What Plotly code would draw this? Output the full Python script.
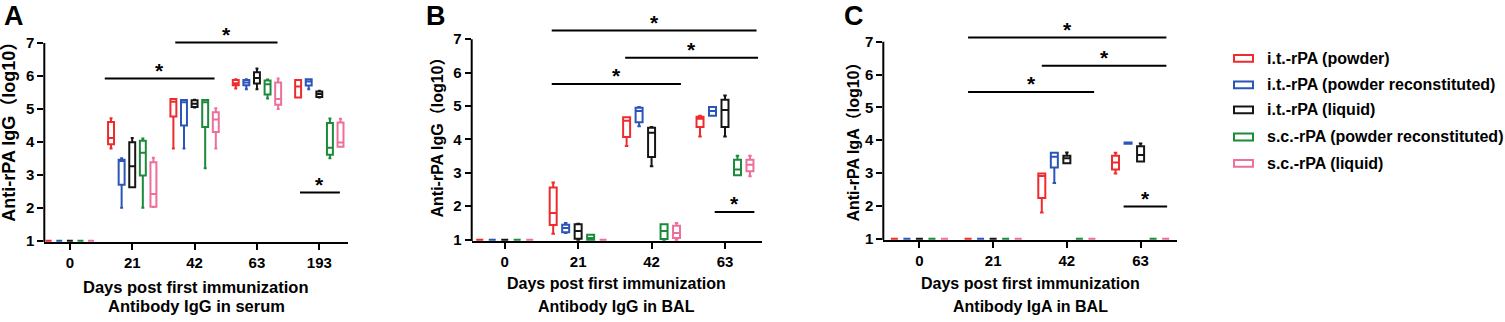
import plotly.graph_objects as go

# ---------------- data ----------------
groups = ["i.t.-rPA (powder)", "i.t.-rPA (powder reconstituted)", "i.t.-rPA (liquid)",
          "s.c.-rPA (powder reconstituted)", "s.c.-rPA (liquid)"]
colors = ["#EF2B2D", "#2B55B8", "#161616", "#1B8A3B", "#EE6E9C"]

days_A = ["0", "21", "42", "63", "193"]
days_BC = ["0", "21", "42", "63"]

# each entry per day: [lower whisker, q1, median, q3, upper whisker]  (log10 titre)
A_it_powder = [[1, 1, 1, 1, 1], [3.8, 3.93, 4.12, 4.6, 4.72], [3.8, 4.77, 5.22, 5.3, 5.3],
               [5.62, 5.72, 5.78, 5.88, 5.9], [5.35, 5.35, 5.68, 5.88, 5.88]]
A_it_recon = [[1, 1, 1, 1, 1], [2.0, 2.7, 3.42, 3.46, 3.5], [3.8, 4.5, 5.2, 5.27, 5.27],
              [5.6, 5.72, 5.8, 5.88, 5.9], [5.6, 5.71, 5.83, 5.9, 5.9]]
A_it_liquid = [[1, 1, 1, 1, 1], [2.62, 2.62, 3.26, 3.99, 4.12], [5.04, 5.06, 5.16, 5.26, 5.28],
               [5.6, 5.77, 5.94, 6.11, 6.23], [5.35, 5.36, 5.45, 5.53, 5.55]]
A_sc_recon = [[1, 1, 1, 1, 1], [2.0, 2.98, 3.67, 4.03, 4.1], [3.2, 4.45, 5.2, 5.27, 5.27],
              [5.32, 5.44, 5.75, 5.86, 5.89], [3.5, 3.61, 3.82, 4.57, 4.71]]
A_sc_liquid = [[1, 1, 1, 1, 1], [2.02, 2.03, 2.42, 3.38, 3.52], [3.8, 4.3, 4.68, 4.9, 5.02],
               [5.0, 5.13, 5.3, 5.8, 5.92], [3.85, 3.85, 3.98, 4.59, 4.7]]

B_it_powder = [[1, 1, 1, 1, 1], [1.18, 1.44, 1.8, 2.56, 2.71], [3.8, 4.07, 4.56, 4.66, 4.66],
               [4.09, 4.37, 4.62, 4.68, 4.71]]
B_it_recon = [[1, 1, 1, 1, 1], [1.2, 1.22, 1.35, 1.45, 1.5], [4.39, 4.51, 4.85, 4.95, 4.97],
              [4.71, 4.71, 4.85, 4.97, 4.97]]
B_it_liquid = [[1, 1, 1, 1, 1], [1.0, 1.03, 1.26, 1.46, 1.48], [3.2, 3.47, 4.2, 4.35, 4.37],
               [4.09, 4.37, 4.88, 5.19, 5.31]]
B_sc_recon = [[1, 1, 1, 1, 1], [1.0, 1.0, 1.05, 1.15, 1.15], [1.0, 1.02, 1.26, 1.46, 1.46],
              [2.93, 2.93, 3.1, 3.39, 3.51]]
B_sc_liquid = [[1, 1, 1, 1, 1], [1, 1, 1, 1, 1], [1.0, 1.05, 1.2, 1.42, 1.5],
               [2.9, 3.05, 3.24, 3.39, 3.51]]

C_it_powder = [[1, 1, 1, 1, 1], [1, 1, 1, 1, 1], [1.8, 2.24, 2.91, 2.99, 2.99],
               [2.99, 3.11, 3.32, 3.53, 3.62]]
C_it_recon = [[1, 1, 1, 1, 1], [1, 1, 1, 1, 1], [2.7, 3.17, 3.5, 3.62, 3.62],
              [3.89, 3.89, 3.91, 3.93, 3.93]]
C_it_liquid = [[1, 1, 1, 1, 1], [1, 1, 1, 1, 1], [3.3, 3.3, 3.45, 3.53, 3.63],
               [3.35, 3.35, 3.55, 3.82, 3.9]]
C_sc_recon = [[1, 1, 1, 1, 1], [1, 1, 1, 1, 1], [1, 1, 1, 1, 1], [1, 1, 1, 1, 1]]
C_sc_liquid = [[1, 1, 1, 1, 1], [1, 1, 1, 1, 1], [1, 1, 1, 1, 1], [1, 1, 1, 1, 1]]

# significance brackets: (from category position, to category position, level)
sig_A = [(0.56, 2.32, 5.92), (1.69, 3.33, 7.02), (3.69, 4.33, 2.46)]
sig_B = [(0.64, 3.43, 7.26), (1.64, 3.45, 6.44), (0.64, 2.40, 5.66), (2.86, 3.40, 1.83)]
sig_C = [(0.66, 3.35, 7.13), (1.66, 3.35, 6.27), (0.66, 2.37, 5.47), (2.77, 3.36, 1.98)]

panel_letters = ["A", "B", "C"]
y_titles = ["Anti-rPA IgG（log10）", "Anti-rPA IgG（log10）", "Anti-rPA IgA（log10）"]
x_title_1 = "Days post first immunization"
x_title_2 = ["Antibody IgG in serum", "Antibody IgG in BAL", "Antibody IgA in BAL"]

# ---------------- layout geometry (pixels) ----------------
W, H = 1505, 322
FONT = "Liberation Sans, Arial, Noto Sans CJK SC, sans-serif"
YMIN, YMAX = 0.96, 7.5

panels = [
    dict(data=[A_it_powder, A_it_recon, A_it_liquid, A_sc_recon, A_sc_liquid], days=days_A,
         sig=sig_A, left=44.3, right=348, p1=246, p7=44, xr=[-0.41, 4.46],
         letter_x=2, ytx=9.5, yty=130, ytsize=18, xts=16.5, xt1=293, xt2=313),
    dict(data=[B_it_powder, B_it_recon, B_it_liquid, B_sc_recon, B_sc_liquid], days=days_BC,
         sig=sig_B, left=471.7, right=761.7, p1=245, p7=40, xr=[-0.45, 3.5],
         letter_x=424, ytx=437.5, yty=137, ytsize=16, xts=16, xt1=290, xt2=313),
    dict(data=[C_it_powder, C_it_recon, C_it_liquid, C_sc_recon, C_sc_liquid], days=days_BC,
         sig=sig_C, left=883.3, right=1176.7, p1=244, p7=42.7, xr=[-0.49, 3.49],
         letter_x=842, ytx=854, yty=141.7, ytsize=16, xts=16, xt1=290, xt2=313),
]

fig = go.Figure()
shapes = []
annotations = []
layout_axes = {}

for k, p in enumerate(panels):
    sfx = "" if k == 0 else str(k + 1)
    xname, yname = "x" + sfx, "y" + sfx
    u = (p["p1"] - p["p7"]) / 6.0
    bottom_px = p["p1"] + (1 - YMIN) * u
    top_px = p["p7"] - (YMAX - 7) * u
    for g, series in enumerate(p["data"]):
        fig.add_trace(go.Box(
            x=p["days"],
            lowerfence=[d[0] for d in series], q1=[d[1] for d in series],
            median=[d[2] for d in series], q3=[d[3] for d in series],
            upperfence=[d[4] for d in series],
            name=groups[g], line=dict(color=colors[g], width=2),
            fillcolor="rgba(255,255,255,0)", whiskerwidth=0.5,
            alignmentgroup=panel_letters[k], offsetgroup=str(g),
            boxpoints=False, showlegend=False, xaxis=xname, yaxis=yname,
        ))
    layout_axes["xaxis" + sfx] = dict(
        domain=[p["left"] / W, p["right"] / W], anchor=yname, type="category",
        categoryorder="array", categoryarray=p["days"], range=p["xr"], autorange=False,
        showline=True, linecolor="black", linewidth=2, ticks="outside", ticklen=6,
        tickwidth=2, tickcolor="black", showgrid=False, zeroline=False,
        layer="below traces",
        tickfont=dict(family=FONT, size=15, color="black", weight="bold"))
    layout_axes["yaxis" + sfx] = dict(
        domain=[(H - bottom_px) / H, (H - top_px) / H], anchor=xname,
        range=[YMIN, YMAX], autorange=False, tickvals=[1, 2, 3, 4, 5, 6, 7], showline=False,
        ticks="outside", ticklen=6, tickwidth=2, tickcolor="black",
        showgrid=False, zeroline=False, layer="below traces",
        tickfont=dict(family=FONT, size=15, color="black", weight="bold"))
    # y axis spine only from bottom to 7
    shapes.append(dict(type="line", xref=xname + " domain", yref=yname, x0=0, x1=0,
                       y0=YMIN, y1=7, line=dict(color="black", width=2)))
    # significance brackets
    for (x0, x1, lvl) in p["sig"]:
        shapes.append(dict(type="line", xref=xname, yref=yname, x0=x0, x1=x1,
                           y0=lvl, y1=lvl, line=dict(color="black", width=2)))
        annotations.append(dict(xref=xname, yref=yname, x=(x0 + x1) / 2, y=lvl, text="*",
                                showarrow=False, yanchor="middle", yshift=8,
                                font=dict(family=FONT, size=21, color="black", weight="bold")))
    # panel letter
    annotations.append(dict(xref="paper", yref="paper", x=p["letter_x"] / W, y=(H - 16) / H,
                            xanchor="left", yanchor="middle", text=panel_letters[k],
                            showarrow=False,
                            font=dict(family=FONT, size=27, color="black", weight="bold")))
    # y title
    annotations.append(dict(xref="paper", yref="paper", x=p["ytx"] / W, y=(H - p["yty"]) / H,
                            xanchor="center", yanchor="middle", textangle=-90,
                            text=y_titles[k], showarrow=False,
                            font=dict(family=FONT, size=p["ytsize"], color="black", weight="bold")))
    # x titles
    xc = (p["left"] + p["right"]) / 2 / W
    for txt, ypx in ((x_title_1, p["xt1"]), (x_title_2[k], p["xt2"])):
        annotations.append(dict(xref="paper", yref="paper", x=xc, y=(H - ypx) / H,
                                xanchor="center", yanchor="middle", text=txt, showarrow=False,
                                font=dict(family=FONT, size=p["xts"], color="black", weight="bold")))

# manual legend
leg_rows = [59.7, 86.7, 112.3, 140, 167]
for g, ypx in enumerate(leg_rows):
    shapes.append(dict(type="rect", xref="paper", yref="paper", x0=1234 / W, x1=1253 / W,
                       y0=(H - ypx - 3.5) / H, y1=(H - ypx + 3.5) / H,
                       line=dict(color=colors[g], width=2), fillcolor="white"))
    annotations.append(dict(xref="paper", yref="paper", x=1265 / W, y=(H - ypx) / H,
                            xanchor="left", yanchor="middle", text=groups[g], showarrow=False,
                            font=dict(family=FONT, size=16, color="black", weight="bold")))

fig.update_layout(
    width=W, height=H, margin=dict(l=0, r=0, t=0, b=0),
    paper_bgcolor="white", plot_bgcolor="white",
    boxmode="group", boxgap=0.15, boxgroupgap=0.44,
    showlegend=False, shapes=shapes, annotations=annotations,
    **layout_axes,
)

fig.write_html("out.html",
               config={"displayModeBar": False},
               post_script="document.body.style.margin='0';document.body.style.padding='0';"
                           "document.documentElement.style.overflow='hidden';")
